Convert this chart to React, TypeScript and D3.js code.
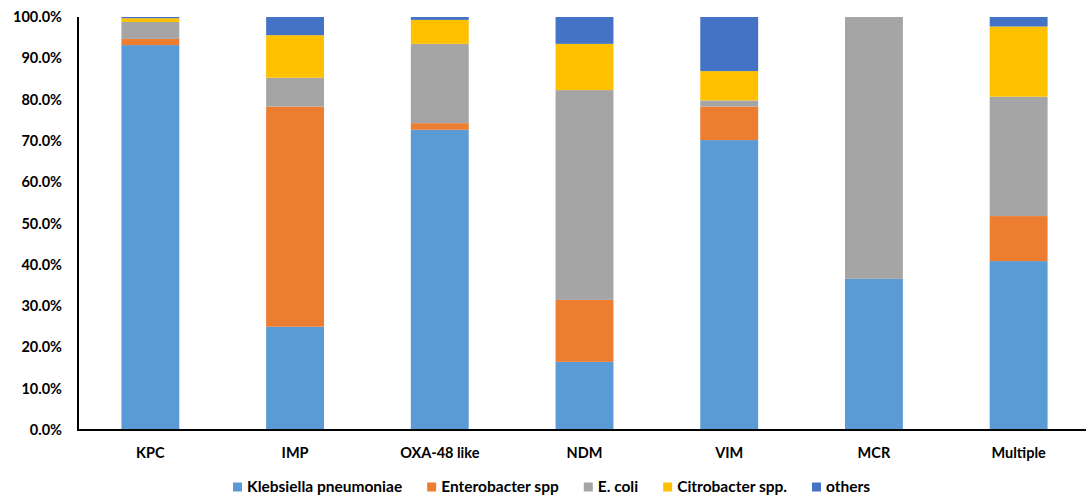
import React, { useEffect, useRef } from "react";
import * as d3 from "d3";

const categories = ["KPC", "IMP", "OXA-48 like", "NDM", "VIM", "MCR", "Multiple"];
const seriesNames = ["Klebsiella pneumoniae", "Enterobacter spp", "E. coli", "Citrobacter spp.", "others"];
const seriesColors = ["#5B9BD5", "#ED7D31", "#A5A5A5", "#FFC000", "#4472C4"];

// Percentage share of each organism per resistance mechanism
const klebsiella = [93.2, 25.0, 72.7, 16.5, 70.2, 36.6, 40.9];
const enterobacter = [1.5, 53.3, 1.6, 15.0, 8.1, 0, 10.9];
const eColi = [4.1, 7.0, 19.2, 50.8, 1.5, 63.4, 28.9];
const citrobacter = [0.9, 10.3, 5.8, 11.2, 7.1, 0, 17.0];
const others = [0.3, 4.4, 0.7, 6.5, 13.1, 0, 2.3];

const yTicks = [0, 10, 20, 30, 40, 50, 60, 70, 80, 90, 100];

const W = 1086;
const H = 503;
const FONT = "Lato, 'Open Sans', sans-serif";

export default function App() {
  const ref = useRef<SVGSVGElement>(null);

  useEffect(() => {
    const svg = d3.select(ref.current);
    svg.selectAll("*").remove();

    const left = 78;
    const right = 1091;
    const top = 17;
    const bottom = 430;

    const x = d3.scaleBand<string>().domain(categories).range([left, right]).paddingInner(0.6).paddingOuter(0.3);
    const y = d3.scaleLinear().domain([0, 100]).range([bottom, top]);

    const rows = categories.map((c, i) => ({
      cat: c,
      s0: klebsiella[i],
      s1: enterobacter[i],
      s2: eColi[i],
      s3: citrobacter[i],
      s4: others[i],
    }));
    const keys = ["s0", "s1", "s2", "s3", "s4"];
    const stacked = d3.stack<any>().keys(keys)(rows);

    const g = svg.append("g");
    stacked.forEach((layer, li) => {
      g.append("g")
        .attr("fill", seriesColors[li])
        .selectAll("rect")
        .data(layer)
        .join("rect")
        .attr("x", (d: any) => x(d.data.cat)!)
        .attr("width", x.bandwidth())
        .attr("y", (d: any) => y(Math.min(d[1], 100)))
        .attr("height", (d: any) => Math.max(0, y(d[0]) - y(Math.min(d[1], 100))));
    });

    // Axis lines
    svg.append("line").attr("x1", left).attr("x2", left).attr("y1", top).attr("y2", bottom + 1)
      .attr("stroke", "#000").attr("stroke-width", 2);
    svg.append("line").attr("x1", left - 1).attr("x2", right).attr("y1", bottom).attr("y2", bottom)
      .attr("stroke", "#000").attr("stroke-width", 2);

    // Y tick labels
    svg.append("g")
      .selectAll("text")
      .data(yTicks)
      .join("text")
      .attr("x", 62)
      .attr("y", (d) => y(d))
      .attr("dy", "0.35em")
      .attr("text-anchor", "end")
      .attr("font-family", FONT)
      .attr("font-weight", "bold")
      .attr("font-size", 14.5)
      .attr("fill", "#000")
      .text((d) => d.toFixed(1) + "%");

    // Category labels
    svg.append("g")
      .selectAll("text")
      .data(categories)
      .join("text")
      .attr("x", (d) => x(d)! + x.bandwidth() / 2)
      .attr("y", 453)
      .attr("dy", "0.35em")
      .attr("text-anchor", "middle")
      .attr("font-family", FONT)
      .attr("font-weight", "bold")
      .attr("font-size", 14.5)
      .attr("fill", "#000")
      .text((d) => d);

    // Legend laid out left to right
    const legend = svg.append("g");
    let lx = 233;
    const ly = 487;
    seriesNames.forEach((name, i) => {
      legend.append("rect").attr("x", lx).attr("y", ly - 4.5).attr("width", 9).attr("height", 9).attr("fill", seriesColors[i]);
      const t = legend.append("text")
        .attr("x", lx + 14)
        .attr("y", ly)
        .attr("dy", "0.35em")
        .attr("font-family", FONT)
        .attr("font-weight", "bold")
        .attr("font-size", 15.5)
        .attr("fill", "#000")
        .text(name);
      const w = (t.node() as SVGTextElement).getComputedTextLength();
      lx += 14 + w + 25;
    });
  }, []);

  return (
    <svg
      ref={ref}
      width={W}
      height={H}
      style={{ position: "absolute", left: 0, top: 0, display: "block", background: "#fff" }}
    />
  );
}
